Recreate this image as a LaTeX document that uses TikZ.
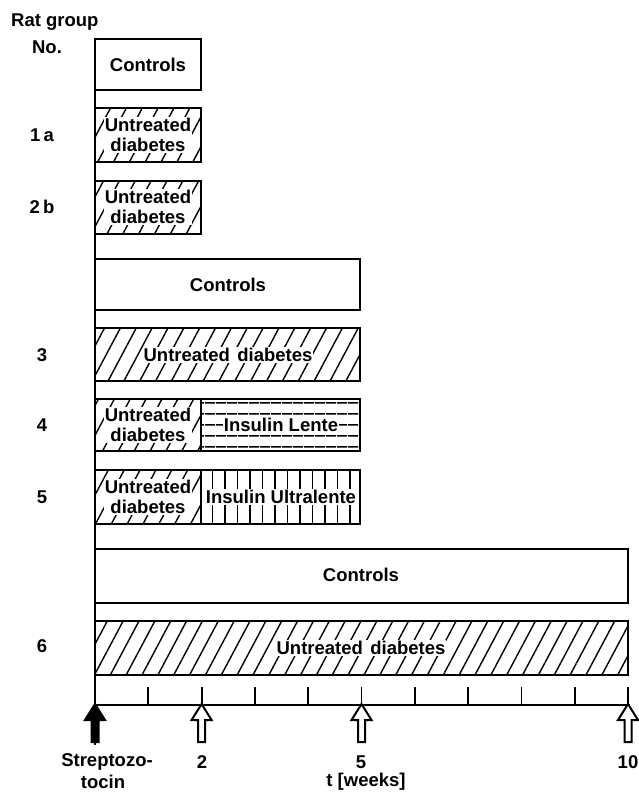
\documentclass[tikz,border=0pt]{standalone}
\usepackage{fontspec}
\setmainfont{Liberation Sans}
\usepackage{tikz}
\usetikzlibrary{patterns.meta}
\tikzset{
  box/.style={draw,line width=2.4pt},
  untr/.style={box,pattern={Lines[angle=62,distance=14pt,line width=1.4pt]}},
  lente/.style={box,pattern={Lines[angle=0,distance=10.5pt,line width=1.4pt]}},
  ultra/.style={box,pattern={Lines[angle=90,distance=12.5pt,line width=1.4pt]}},
  txt/.style={font=\fontsize{18.5}{20}\selectfont\bfseries,inner sep=1pt,align=center},
  lbl/.style={txt,fill=white},
  axis/.style={line width=2.6pt},
  tk/.style={line width=1.8pt}
}
\newcommand{\warr}[2]{\draw[line width=2pt,fill=#2] (#1,704) -- (#1+10,720) -- (#1+3.5,720) -- (#1+3.5,742) -- (#1-3.5,742) -- (#1-3.5,720) -- (#1-10,720) -- cycle;}
\newcommand{\wk}[1]{95+53.3*#1}

\begin{document}
\begin{tikzpicture}[x=1pt,y=-1pt]
\useasboundingbox (0,0) rectangle (639,793);
\draw[box] (95,39) rectangle (201,90); \node[lbl] (ctlA) at (148,65) {Controls};
\draw[untr] (95,108) rectangle (201,162); \node[lbl] (udA) at (148,135) {Untreated\\diabetes};
\draw[untr] (95,181) rectangle (201,234); \node[lbl] (udB) at (148,207) {Untreated\\diabetes};
\draw[box] (95,259) rectangle (360,310); \node[lbl] (ctlB) at (228,285) {Controls};
\draw[untr] (95,328) rectangle (360,381); \node[lbl] (udC) at (228,355) {Untreated\hspace{0.4em}diabetes};
\draw[untr] (95,399) rectangle (201,451); \node[lbl] (udD) at (148,425) {Untreated\\diabetes};
\draw[lente] (201,399) rectangle (360,451); \node[lbl] (lente) at (281,425) {Insulin Lente};
\draw[untr] (95,470) rectangle (201,524); \node[lbl] (udE) at (148,497) {Untreated\\diabetes};
\draw[ultra] (201,470) rectangle (360,524); \node[lbl] (ultra) at (281,497) {Insulin Ultralente};
\draw[box] (95,549) rectangle (628,603); \node[lbl] (ctlC) at (361,575) {Controls};
\draw[untr] (95,621) rectangle (628,675); \node[lbl] (udF) at (361,648) {Untreated\hspace{0.4em}diabetes};
\node[txt,anchor=west] (rat) at (10,22) {Rat group}; \node[txt] (no) at (47,47) {No.};
\node[txt] (gA) at (42,135) {1\,a}; \node[txt] (gB) at (42,207) {2\,b};
\node[txt] (g3) at (42,355) {3}; \node[txt] (g4) at (42,425) {4};
\node[txt] (g5) at (42,497) {5}; \node[txt] (g6) at (42,646) {6};
\draw[axis] (95,39) -- (95,745); \draw[axis] (95,705) -- (630,705);
\foreach \w in {1,...,10} {\draw[tk] ({\wk{\w}},687) -- ({\wk{\w}},705);}
\warr{95}{black} \warr{201.6}{white} \warr{361.5}{white} \warr{628}{white}
\node[txt] (strep) at (107,762) {Streptozo-}; \node[txt] (tocin) at (103,782) {tocin};
\node[txt] (wA) at (202,762) {2}; \node[txt] (wB) at (361,762) {5}; \node[txt] (wC) at (628,762) {10};
\node[txt] (tw) at (366,782) {t [weeks]};
\end{tikzpicture}
\end{document}
